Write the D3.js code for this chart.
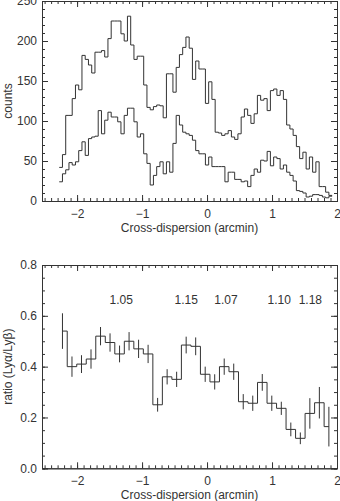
<!DOCTYPE html>
<html>
<head>
<meta charset="utf-8">
<script src="https://cdn.jsdelivr.net/npm/d3@7/dist/d3.min.js"></script>
<style>
  body { margin: 0; background: #fff; }
  text { font-family: "Liberation Sans", Arial, sans-serif; font-size: 12px; fill: #333; }
</style>
</head>
<body>
<svg id="chart" width="340" height="501"></svg>
<script>
// counts histograms: bin centres every 0.05 arcmin from -2.25
const countStart = -2.25;
const countStep = 0.05;
const countsUpper = [
  42, 58, 107, 107, 128, 145, 139, 182, 177, 170,
  160, 186, 186, 188, 180, 203, 225, 225, 225, 209,
  200, 231, 195, 177, 181, 181, 145, 117, 114, 118,
  120, 119, 104, 159, 159, 136, 167, 183, 192, 205,
  191, 152, 175, 165, 165, 122, 149, 127, 86, 85,
  82, 84, 88, 80, 77, 84, 105, 115, 107, 97,
  109, 132, 126, 128, 113, 138, 140, 132, 138, 127,
  95, 90, 82, 68, 53, 61, 40, 55, 36, 49,
  18, 18, 11, 7
];
const countsLower = [
  24, 34, 39, 48, 45, 49, 63, 74, 57, 78,
  80, 81, 113, 84, 101, 111, 105, 105, 99, 84,
  107, 116, 116, 99, 80, 84, 59, 47, 20, 32,
  43, 49, 34, 49, 36, 72, 107, 95, 86, 84,
  82, 76, 63, 59, 59, 45, 55, 43, 43, 43,
  43, 24, 36, 36, 27, 27, 24, 25, 18, 32,
  40, 36, 51, 50, 62, 44, 55, 53, 40, 45,
  36, 32, 25, 13, 12, 10, 5, 6, 8, 8,
  7, 5, 4, 6
];

// ratio points: 29 positions from -2.225 to 1.875 arcmin
const ratioStart = -2.225;
const ratioStep = 4.1 / 28;
const ratioValues = [
  0.54, 0.40, 0.41, 0.43, 0.52, 0.495, 0.45, 0.50, 0.47, 0.45,
  0.25, 0.36, 0.35, 0.485, 0.48, 0.37, 0.34, 0.40, 0.38, 0.262,
  0.256, 0.338, 0.256, 0.236, 0.153, 0.118, 0.216, 0.258, 0.164
];
const ratioErrors = [
  0.07, 0.04, 0.035, 0.038, 0.036, 0.036, 0.033, 0.036, 0.036, 0.036,
  0.027, 0.03, 0.03, 0.033, 0.035, 0.03, 0.03, 0.032, 0.032, 0.03,
  0.03, 0.033, 0.03, 0.026, 0.027, 0.023, 0.06, 0.062, 0.078
];

const xMajor = [-2, -1, 0, 1, 2];
const countMajor = [0, 50, 100, 150, 200, 250];
const ratioMajor = [0.0, 0.2, 0.4, 0.6, 0.8];

const noteX = [-1.32, -0.32, 0.29, 1.11, 1.59];
const noteY = 0.645;
const noteText = ["1.05", "1.15", "1.07", "1.10", "1.18"];

const svg = d3.select("#chart");
const ink = "#333";

const x = d3.scaleLinear().domain([-2.54, 2]).range([42, 337]);
const yCounts = d3.scaleLinear().domain([0, 250]).range([201, 1]);
const yRatio = d3.scaleLinear().domain([0, 0.8]).range([468.3, 265]);

const xMinor = d3.range(-25, 21).map(d => d / 10);

function drawFrame(y, yMajor, yMinor, yFmt, yTitle) {
  const [y0, y1] = y.range();
  const [x0, x1] = x.range();
  const g = svg.append("g");

  // IDL style box: ticks point inwards on all four sides
  const bottom = g.append("g").attr("transform", `translate(0,${y0})`);
  bottom.call(d3.axisBottom(x).tickValues(xMinor).tickSize(-3).tickFormat(""));
  const bottomMajor = bottom.append("g").call(
    d3.axisBottom(x).tickValues(xMajor).tickSize(-6)
      .tickFormat(d => d < 0 ? "\u2212" + Math.abs(d) : d));
  bottomMajor.selectAll("text").attr("y", 17).attr("dy", null);

  const top = g.append("g").attr("transform", `translate(0,${y1})`);
  top.call(d3.axisTop(x).tickValues(xMinor).tickSize(-3).tickFormat(""));
  top.append("g").call(d3.axisTop(x).tickValues(xMajor).tickSize(-6).tickFormat(""));

  const left = g.append("g").attr("transform", `translate(${x0},0)`);
  left.call(d3.axisLeft(y).tickValues(yMinor).tickSize(-3).tickFormat(""));
  left.append("g").call(d3.axisLeft(y).tickValues(yMajor).tickSize(-6).tickPadding(5).tickFormat(yFmt));
  const right = g.append("g").attr("transform", `translate(${x1},0)`);
  right.call(d3.axisRight(y).tickValues(yMinor).tickSize(-3).tickFormat(""));
  right.append("g").call(d3.axisRight(y).tickValues(yMajor).tickSize(-6).tickFormat(""));

  g.selectAll(".domain").attr("stroke", ink);
  g.selectAll(".tick line").attr("stroke", ink);
  g.selectAll(".tick text").attr("fill", ink).style("font-size", "12px")
    .style("font-family", '"Liberation Sans", Arial, sans-serif');

  svg.append("text")
    .attr("x", (x0 + x1) / 2).attr("y", Math.min(y0 + 31, 498.5))
    .attr("text-anchor", "middle")
    .text("Cross-dispersion (arcmin)");
  svg.append("text")
    .attr("transform", `translate(12,${(y0 + y1) / 2}) rotate(-90)`)
    .attr("text-anchor", "middle")
    .text(yTitle);
}

drawFrame(yCounts, countMajor, d3.range(0, 251, 10), d3.format("d"), "counts");
drawFrame(yRatio, ratioMajor, d3.range(0, 17).map(d => d * 0.05), d3.format(".1f"), "ratio (Ly\u03b1/Ly\u03b2)");

// histogram outline: steps half way between bin centres
function stepPoints(values, start, step, extend) {
  const pts = values.map((v, i) => [start + i * step - (i === 0 && !extend ? 0 : step / 2), v]);
  const n = values.length - 1;
  pts.push([start + n * step + (extend ? step / 2 : 0), values[n]]);
  return pts;
}

const countLine = d3.line().curve(d3.curveStepAfter)
  .x(d => x(d[0])).y(d => yCounts(d[1]));
const ratioLine = d3.line().curve(d3.curveStepAfter)
  .x(d => x(d[0])).y(d => yRatio(d[1]));

[countsUpper, countsLower].forEach(series => {
  svg.append("path")
    .attr("d", countLine(stepPoints(series, countStart, countStep, true)))
    .attr("fill", "none").attr("stroke", ink).attr("stroke-width", 1);
});

svg.append("path")
  .attr("d", ratioLine(stepPoints(ratioValues, ratioStart, ratioStep, false)))
  .attr("fill", "none").attr("stroke", ink).attr("stroke-width", 1);

svg.append("g").selectAll("line")
  .data(ratioValues)
  .join("line")
  .attr("x1", (d, i) => x(ratioStart + i * ratioStep))
  .attr("x2", (d, i) => x(ratioStart + i * ratioStep))
  .attr("y1", (d, i) => yRatio(d - ratioErrors[i]))
  .attr("y2", (d, i) => yRatio(d + ratioErrors[i]))
  .attr("stroke", ink).attr("stroke-width", 1);

svg.append("g").selectAll("text")
  .data(noteText)
  .join("text")
  .attr("x", (d, i) => x(noteX[i]))
  .attr("y", yRatio(noteY))
  .attr("text-anchor", "middle")
  .text(d => d);
</script>
</body>
</html>
